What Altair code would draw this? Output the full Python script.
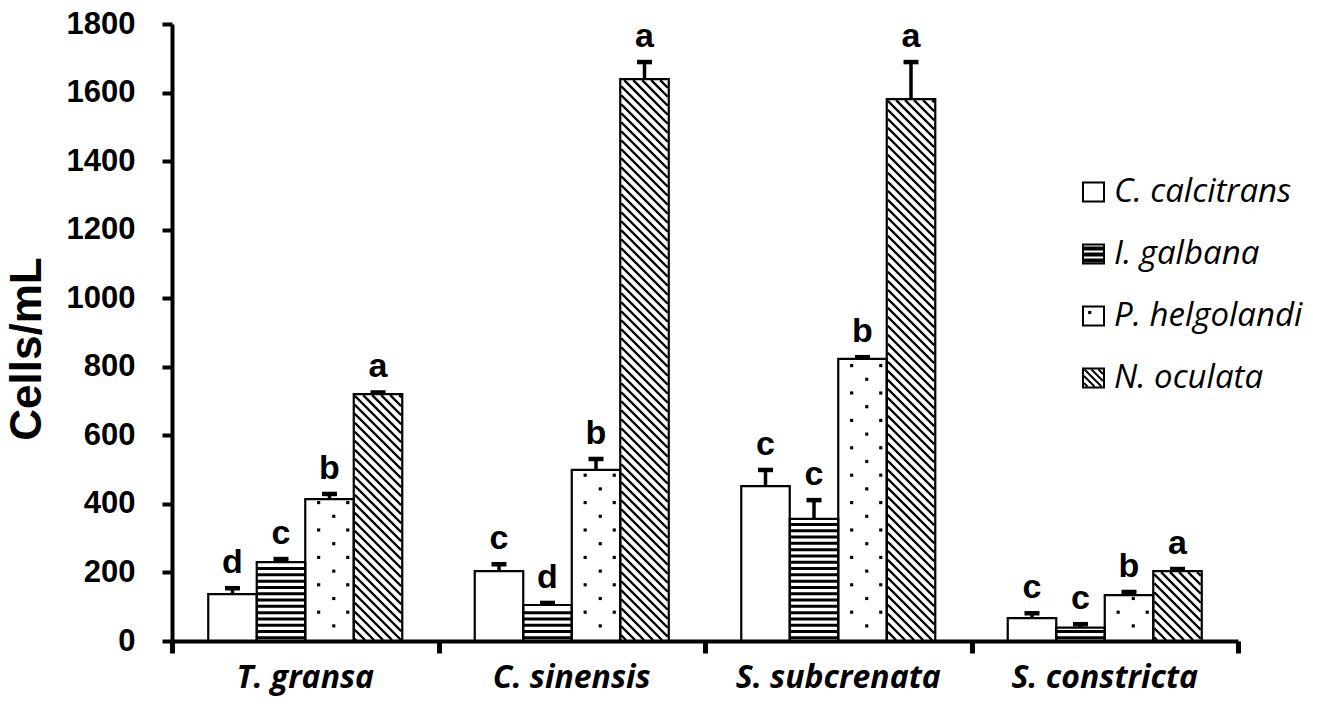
import math
import altair as alt
import pandas as pd

# ---------------- data ----------------
hosts = ["T. gransa", "C. sinensis", "S. subcrenata", "S. constricta"]
algae = ["C. calcitrans", "I. galbana", "P. helgolandi", "N. oculata"]

c_calcitrans = [137, 204, 452, 67]
i_galbana = [230, 105, 356, 39]
p_helgolandi = [414, 499, 823, 134]
n_oculata = [720, 1639, 1581, 204]

err_c_calcitrans = [17, 20, 47, 14]
err_i_galbana = [9, 6, 55, 10]
err_p_helgolandi = [15, 32, 5, 9]
err_n_oculata = [5, 50, 108, 6]

sig_c_calcitrans = ["d", "c", "c", "c"]
sig_i_galbana = ["c", "d", "c", "c"]
sig_p_helgolandi = ["b", "b", "b", "b"]
sig_n_oculata = ["a", "a", "a", "a"]

y_ticks = [0, 200, 400, 600, 800, 1000, 1200, 1400, 1600, 1800]
y_title = "Cells/mL"

# ---------------- layout / style ----------------
W, H = 1066, 617
YMAX = 1800
KX = W / len(hosts)      # px per category unit
KY = H / YMAX            # px per y unit
BAR = 0.182
PAD = (1 - len(algae) * BAR) / 2
PATTERN = ["plain", "stripes", "dots", "hatch"]

values = [c_calcitrans, i_galbana, p_helgolandi, n_oculata]
errs = [err_c_calcitrans, err_i_galbana, err_p_helgolandi, err_n_oculata]
sigs = [sig_c_calcitrans, sig_i_galbana, sig_p_helgolandi, sig_n_oculata]

rows = []
for i, h in enumerate(hosts):
    for j, a in enumerate(algae):
        x0 = i + PAD + j * BAR
        v = values[j][i]
        rows.append(dict(host=h, alga=a, x0=x0, x1=x0 + BAR, xc=x0 + BAR / 2,
                         value=v, base=0, top=v + errs[j][i], sig=sigs[j][i],
                         pattern=PATTERN[j]))
bars = pd.DataFrame(rows)


# ------------- pattern generators (plot pixels, y down) -------------
def stripe_segs(X0, X1, Yt, Yb, period=6.3, lw=3.0):
    out = []
    y = Yb - period / 2
    while y > Yt + lw / 2 + 0.5:
        out.append((X0 + 0.5, y, X1 - 0.5, y))
        y -= period
    return out


def dot_pts(X0, X1, Yt, Yb):
    out = []
    y = Yb - 1.4
    k = 0
    while y > Yt + 2:
        offs = [13.4, 42.5] if k % 2 == 0 else [28.5]
        if y < Yb - 3:
            for o in offs:
                if X0 + o < X1 - 1.5:
                    out.append((X0 + o, y))
        y -= 13.7
        k += 1
    return out


def hatch_segs(X0, X1, Yt, Yb, period=9.0):
    out = []
    X0i, X1i, Yti, Ybi = X0 + 1, X1 - 1, Yt + 1, Yb - 1
    cmin, cmax = Yti - X1i, Ybi - X0i
    for k in range(math.floor(cmin / period), math.ceil(cmax / period) + 1):
        c = k * period
        a = max(X0i, Yti - c)
        b = min(X1i, Ybi - c)
        if b - a > 0.8:
            out.append((a, a + c, b, b + c))
    return out


def to_data_x(px):
    return px / KX


def to_data_y(py):
    return (H - py) / KY


stripe_rows, hatch_rows, dot_rows = [], [], []
for r in rows:
    X0, X1 = r["x0"] * KX, r["x1"] * KX
    Yt, Yb = H - r["value"] * KY, H
    if r["pattern"] == "stripes":
        for (a, b, c, d) in stripe_segs(X0, X1, Yt, Yb):
            stripe_rows.append(dict(x=to_data_x(a), y=to_data_y(b), x2=to_data_x(c), y2=to_data_y(d)))
    elif r["pattern"] == "hatch":
        for (a, b, c, d) in hatch_segs(X0, X1, Yt, Yb):
            hatch_rows.append(dict(x=to_data_x(a), y=to_data_y(b), x2=to_data_x(c), y2=to_data_y(d)))
    elif r["pattern"] == "dots":
        for (a, b) in dot_pts(X0, X1, Yt, Yb):
            dot_rows.append(dict(x=to_data_x(a), y=to_data_y(b)))

stripes_df = pd.DataFrame(stripe_rows)
hatch_df = pd.DataFrame(hatch_rows)
dots_df = pd.DataFrame(dot_rows)

# ------------- legend geometry (plot pixels) -------------
LEG_X, LEG_W, LEG_H = 911, 21, 19
LEG_Y0, LEG_DY = 168, 62
LEG_TEXT_X = 942
leg_rows, leg_stripes, leg_hatch, leg_dots = [], [], [], []
for j, a in enumerate(algae):
    cy = LEG_Y0 + j * LEG_DY
    X0, X1, Yt, Yb = LEG_X, LEG_X + LEG_W, cy - LEG_H / 2, cy + LEG_H / 2
    leg_rows.append(dict(alga=a, px0=X0, px1=X1, py0=Yt, py1=Yb, ty=cy, tx=LEG_TEXT_X))
    if PATTERN[j] == "stripes":
        for (p, q, s, t) in stripe_segs(X0, X1, Yt, Yb, period=6.0, lw=4.0):
            leg_stripes.append(dict(px=p, py=q, px2=s, py2=t))
    elif PATTERN[j] == "hatch":
        for (p, q, s, t) in hatch_segs(X0, X1, Yt, Yb, period=7.0):
            leg_hatch.append(dict(px=p, py=q, px2=s, py2=t))
    elif PATTERN[j] == "dots":
        leg_dots.append(dict(px=X0 + 6.7, py=Yt + 6))
legend_df = pd.DataFrame(leg_rows)
leg_stripes_df = pd.DataFrame(leg_stripes)
leg_hatch_df = pd.DataFrame(leg_hatch)
leg_dots_df = pd.DataFrame(leg_dots)

cat_df = pd.DataFrame(dict(host=hosts, xc=[i + 0.5 for i in range(len(hosts))]))
title_df = pd.DataFrame(dict(t=[y_title]))

# ---------------- chart ----------------
xscale = alt.Scale(domain=[0, len(hosts)], nice=False, zero=False)
yscale = alt.Scale(domain=[0, YMAX], nice=False)

x_axis = alt.Axis(values=list(range(len(hosts) + 1)), labels=False, title=None, grid=False,
                  domainColor="black", domainWidth=4, tickColor="black", tickWidth=5,
                  tickSize=12, zindex=1)
y_axis = alt.Axis(values=y_ticks, format="d", title=None, grid=False, domainColor="black",
                  domainWidth=4, tickColor="black", tickWidth=4, tickSize=10,
                  labelFont="Liberation Sans", labelFontWeight="bold", labelFontSize=31,
                  labelColor="black", labelPadding=27, zindex=1)

fill = alt.Chart(bars).mark_rect(fill="white", strokeWidth=0).encode(
    x=alt.X("x0:Q", scale=xscale, axis=x_axis),
    x2="x1:Q",
    y=alt.Y("value:Q", scale=yscale, axis=y_axis),
    y2="base:Q",
)

stripes = alt.Chart(stripes_df).mark_rule(color="black", strokeWidth=3, strokeCap="butt").encode(
    x=alt.X("x:Q", scale=xscale), y=alt.Y("y:Q", scale=yscale), x2="x2:Q", y2="y2:Q")
hatch = alt.Chart(hatch_df).mark_rule(color="black", strokeWidth=2.4, strokeCap="butt").encode(
    x=alt.X("x:Q", scale=xscale), y=alt.Y("y:Q", scale=yscale), x2="x2:Q", y2="y2:Q")
dots = alt.Chart(dots_df).mark_square(color="black", size=10, opacity=1).encode(
    x=alt.X("x:Q", scale=xscale), y=alt.Y("y:Q", scale=yscale))

outline = alt.Chart(bars).mark_rect(fillOpacity=0, stroke="black", strokeWidth=2.2).encode(
    x=alt.X("x0:Q", scale=xscale), x2="x1:Q",
    y=alt.Y("value:Q", scale=yscale), y2="base:Q")

stems = alt.Chart(bars).mark_rule(color="black", strokeWidth=3.5).encode(
    x=alt.X("xc:Q", scale=xscale), y=alt.Y("value:Q", scale=yscale), y2="top:Q")
caps = alt.Chart(bars).mark_tick(color="black", orient="horizontal", size=15, thickness=4.5,
                                 opacity=1).encode(
    x=alt.X("xc:Q", scale=xscale), y=alt.Y("top:Q", scale=yscale))
letters = alt.Chart(bars).mark_text(font="Liberation Sans", fontWeight="bold", fontSize=34,
                                    baseline="alphabetic", align="center", dy=-15,
                                    color="black").encode(
    x=alt.X("xc:Q", scale=xscale), y=alt.Y("top:Q", scale=yscale), text="sig:N")

cats = alt.Chart(cat_df).mark_text(font="Open Sans", fontStyle="italic", fontWeight="bold",
                                   fontSize=32, baseline="alphabetic", align="center",
                                   color="black").encode(
    x=alt.X("xc:Q", scale=xscale), y=alt.value(H + 47), text="host:N")

ytitle = alt.Chart(title_df).mark_text(font="Liberation Sans", fontWeight="bold", fontSize=44,
                                       angle=270, align="center", baseline="middle",
                                       color="black").encode(
    x=alt.value(-144), y=alt.value(325), text="t:N")

leg_fill = alt.Chart(legend_df).mark_rect(fill="white", strokeWidth=0).encode(
    x=alt.X("px0:Q", scale=None, axis=None), x2="px1:Q",
    y=alt.Y("py0:Q", scale=None, axis=None), y2="py1:Q")
leg_str = alt.Chart(leg_stripes_df).mark_rule(color="black", strokeWidth=4, strokeCap="butt").encode(
    x=alt.X("px:Q", scale=None, axis=None), x2="px2:Q",
    y=alt.Y("py:Q", scale=None, axis=None), y2="py2:Q")
leg_hat = alt.Chart(leg_hatch_df).mark_rule(color="black", strokeWidth=2, strokeCap="butt").encode(
    x=alt.X("px:Q", scale=None, axis=None), x2="px2:Q",
    y=alt.Y("py:Q", scale=None, axis=None), y2="py2:Q")
leg_dot = alt.Chart(leg_dots_df).mark_square(color="black", size=10, opacity=1).encode(
    x=alt.X("px:Q", scale=None, axis=None), y=alt.Y("py:Q", scale=None, axis=None))
leg_out = alt.Chart(legend_df).mark_rect(fillOpacity=0, stroke="black", strokeWidth=2).encode(
    x=alt.X("px0:Q", scale=None, axis=None), x2="px1:Q",
    y=alt.Y("py0:Q", scale=None, axis=None), y2="py1:Q")
leg_txt = alt.Chart(legend_df).mark_text(font="Open Sans", fontStyle="italic", fontSize=33,
                                         align="left", baseline="middle", color="black").encode(
    x=alt.X("tx:Q", scale=None, axis=None), y=alt.Y("ty:Q", scale=None, axis=None),
    text="alga:N")

chart = alt.layer(
    fill, stripes, hatch, dots, outline, stems, caps, letters, cats, ytitle,
    leg_fill, leg_str, leg_hat, leg_dot, leg_out, leg_txt,
).properties(
    width=W, height=H, autosize="none",
    padding={"left": 164, "top": 16, "right": 82, "bottom": 55},
    background="white",
).configure_view(stroke=None)

chart.save("out.html", embed_options={"renderer": "svg", "actions": False})
